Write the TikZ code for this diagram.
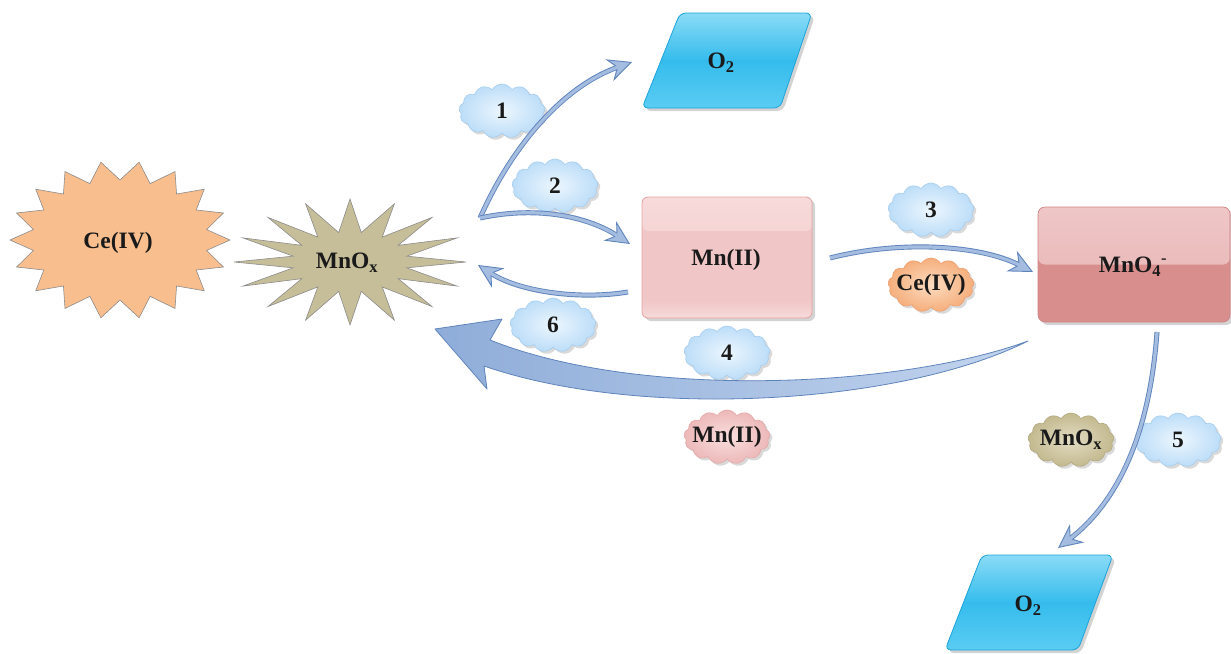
\documentclass[tikz,border=0pt]{standalone}
\usepackage{fontspec}
\setmainfont{Liberation Serif}
\usetikzlibrary{shapes.symbols,shadows,arrows.meta}
\definecolor{txt}{HTML}{1A1A1A}
\definecolor{ceorange}{HTML}{F9BE8E}
\definecolor{mnkhaki}{HTML}{C6BE98}
\definecolor{stargray}{HTML}{8C8C8C}
\definecolor{oxtop}{HTML}{8ADBF6}
\definecolor{oxmid}{HTML}{35BCEC}
\definecolor{oxbot}{HTML}{5ACCF3}
\definecolor{oxborder}{HTML}{1CA3DA}
\definecolor{mnpink}{HTML}{F1C6C6}
\definecolor{mnpinklight}{HTML}{F7DADA}
\definecolor{mnborder}{HTML}{E4A3A3}
\definecolor{permtop}{HTML}{EFC6C6}
\definecolor{permtop2}{HTML}{E6B2B2}
\definecolor{permbot}{HTML}{D98E8E}
\definecolor{permborder}{HTML}{D08282}
\definecolor{arrowdark}{HTML}{5F84BC}
\definecolor{arrowlight}{HTML}{A3BCE0}
\definecolor{bigleft}{HTML}{8FADD9}
\definecolor{bigright}{HTML}{C2D4EE}
\definecolor{cloudin}{HTML}{ECF6FE}
\definecolor{cloudout}{HTML}{BCDDF8}
\definecolor{cloudedge}{HTML}{A6CDEF}
\definecolor{orgin}{HTML}{FCDCC0}
\definecolor{orgout}{HTML}{F5AE7C}
\definecolor{orgedge}{HTML}{EDA070}
\definecolor{pinkin}{HTML}{F9DEDE}
\definecolor{pinkout}{HTML}{EDB8B8}
\definecolor{pinkedge}{HTML}{E3A9A9}
\definecolor{khin}{HTML}{E2DCC2}
\definecolor{khout}{HTML}{C3B98F}
\definecolor{khedge}{HTML}{B3A982}
\tikzset{
  lbl/.style={text=txt, inner sep=0pt},
  puff/.style={cloud, cloud puffs=13, cloud puff arc=120, aspect=1.6,
    minimum width=86pt, minimum height=54pt, inner sep=0pt, line width=0.6pt,
    drop shadow={shadow xshift=2.5pt, shadow yshift=-2.5pt, opacity=0.3}},
  bluepuff/.style={puff, draw=cloudedge, inner color=cloudin, outer color=cloudout},
  orangepuff/.style={puff, draw=orgedge, inner color=orgin, outer color=orgout},
  pinkpuff/.style={puff, draw=pinkedge, inner color=pinkin, outer color=pinkout},
  khakipuff/.style={puff, draw=khedge, inner color=khin, outer color=khout},
  starline/.style={draw=stargray, line width=0.6pt},
  oxbox/.style={draw=oxborder, line width=0.8pt, rounded corners=6pt,
    top color=oxtop, bottom color=oxbot, middle color=oxmid,
    drop shadow={shadow xshift=3pt, shadow yshift=-3pt, opacity=0.35}},
  mnbox/.style={rectangle, rounded corners=6pt, draw=mnborder, line width=0.8pt,
    fill=mnpink, minimum width=170pt, minimum height=121pt,
    path picture={
      \fill[top color=mnpinklight, bottom color=mnpink]
        (path picture bounding box.north west) rectangle ([yshift=-34pt]path picture bounding box.north east);
      \fill[top color=mnpink, bottom color=mnpinklight]
        ([yshift=18pt]path picture bounding box.south west) rectangle (path picture bounding box.south east);},
    drop shadow={shadow xshift=3pt, shadow yshift=-3pt, opacity=0.35}},
  permbox/.style={rectangle, rounded corners=7pt, draw=permborder, line width=0.6pt,
    fill=permbot, minimum width=192pt, minimum height=115pt,
    path picture={\fill[top color=permtop, bottom color=permtop2]
      (path picture bounding box.north west) rectangle (path picture bounding box.east);},
    drop shadow={shadow xshift=3pt, shadow yshift=-3pt, opacity=0.35}},
  flow/.style={draw=arrowdark, line width=5pt,
    -{Stealth[length=24pt,width=23pt,inset=8pt,fill=arrowlight,line width=0.9pt]},
    postaction={draw=arrowlight, line width=3.2pt, -, shorten >=15pt}},
  bigflow/.style={draw=arrowdark, line width=0.8pt, left color=bigleft, right color=bigright},
}
\begin{document}
\begin{tikzpicture}[x=1pt,y=-1pt, font=\fontsize{23.5}{26}\selectfont\bfseries]
\useasboundingbox (0,0) rectangle (1231,653);

% stars
\draw[starline, fill=ceorange] (230,240)
  \foreach \i in {1,...,35} { -- ({120+ifthenelse(mod(\i,2)==0,110,88)*cos(\i*10)},
                                 {240+ifthenelse(mod(\i,2)==0,79,60)*sin(\i*10)}) } -- cycle;
\node[lbl] (ce) at (118,243) {Ce(IV)};

\draw[starline, fill=mnkhaki] (466,262)
  \foreach \i in {1,...,31} { -- ({350+ifthenelse(mod(\i,2)==0,116,58)*cos(\i*11.25)},
                                 {262+ifthenelse(mod(\i,2)==0,63,30)*sin(\i*11.25)}) } -- cycle;
\node[lbl] (mnox) at (347,263) {MnO\textsubscript{x}};

% O2 boxes
\draw[oxbox] (680,13) -- (812,13) -- (780,108) -- (642,108) -- cycle;
\node[lbl] (o2a) at (721,63) {O\textsubscript{2}};
\draw[oxbox] (982,555) -- (1113,555) -- (1078,650) -- (945,650) -- cycle;
\node[lbl] (o2b) at (1028,606) {O\textsubscript{2}};

% Mn(II) and MnO4-
\node[mnbox] (mn) at (727,257.5) {};
\node[lbl] (mnt) at (726,260) {Mn(II)};
\node[permbox] (perm) at (1134,264.5) {};
\node[lbl] (permt) at (1133,267) {MnO\textsubscript{4}\textsuperscript{-}};

% clouds
\node[bluepuff, label={[lbl]center:1}] (c1) at (502,111) {};
\node[bluepuff, label={[lbl]center:2}] (c2) at (555,186) {};
\node[bluepuff, label={[lbl]center:6}] (c6) at (553,325) {};
\node[bluepuff, label={[lbl]center:4}] (c4) at (727,353) {};
\node[pinkpuff, label={[lbl]center:Mn(II)}] (cmn) at (727,437) {};
\node[bluepuff, label={[lbl]center:3}] (c3) at (931,210) {};
\node[orangepuff, label={[lbl]center:Ce(IV)}] (cce) at (931,285) {};
\node[bluepuff, label={[lbl]center:5}] (c5) at (1178,440) {};
\node[khakipuff, label={[lbl]center:MnO\textsubscript{x}}] (cmnox) at (1071,440) {};

% connector end points
\coordinate (fork) at (480,218);
\coordinate (o2in) at (632,62);
\coordinate (mnin) at (630,244);
\coordinate (mnout) at (628,292);
\coordinate (mnoxin) at (478,265);
\coordinate (mnright) at (830,258);
\coordinate (permin) at (1033,272);
\coordinate (permdown) at (1157,332);
\coordinate (o2bin) at (1058,548);
\coordinate (bigtail) at (1028,341);
\coordinate (bigtip) at (435,329);

% arrows
\draw[flow] (fork) .. controls (510,150) and (560,88) .. (o2in);
\draw[flow] (fork) .. controls (540,205) and (590,218) .. (mnin);
\draw[flow] (mnout) .. controls (580,300) and (520,292) .. (mnoxin);
\draw[flow] (mnright) .. controls (900,240) and (980,245) .. (permin);
\draw[flow] (permdown) .. controls (1150,430) and (1120,500) .. (o2bin);

% big arrow 4
\draw[bigflow, line join=round] (bigtail) .. controls (900,388) and (640,400) .. (490,340)
  -- (502,319) -- (bigtip) -- (487,389) -- (484,366)
  .. controls (640,420) and (900,405) .. (bigtail) -- cycle;
\end{tikzpicture}
\end{document}
